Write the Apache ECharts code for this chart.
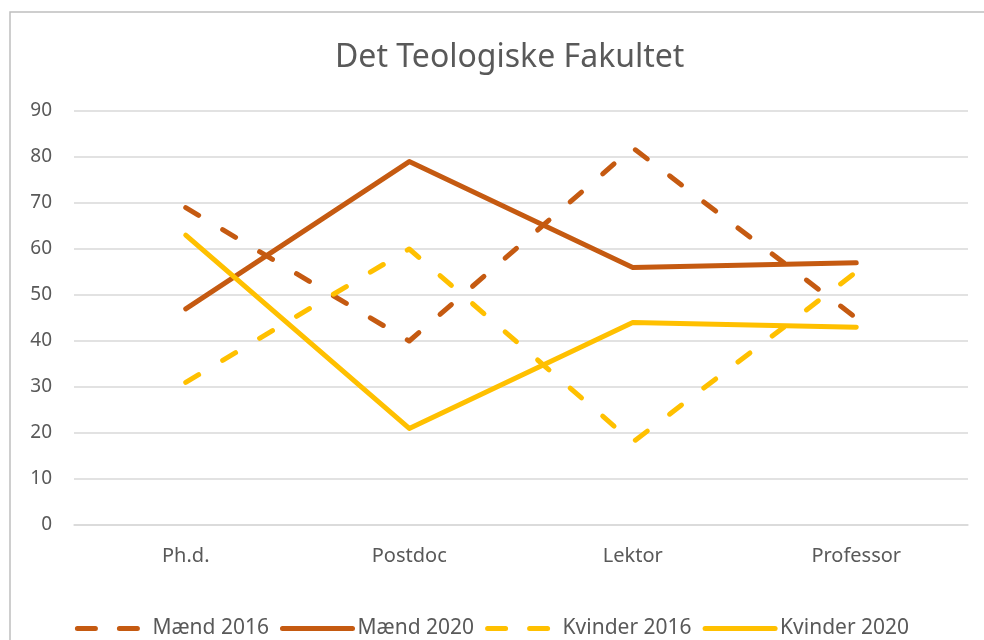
<!DOCTYPE html>
<html>
<head>
<meta charset="utf-8">
<script src="https://cdn.jsdelivr.net/npm/echarts@6/dist/echarts.min.js"></script>
<style>
  html, body { margin: 0; padding: 0; background: #fff; }
  #chart { width: 984px; height: 640px; }
</style>
</head>
<body>
<div id="chart"></div>
<script>
// stillinger
const categories = ['Ph.d.', 'Postdoc', 'Lektor', 'Professor']

// andele i procent
const maend2016 = [69, 40, 82, 45]
const maend2020 = [47, 79, 56, 57]
const kvinder2016 = [31, 60, 18, 55]
const kvinder2020 = [63, 21, 44, 43]

const orange = '#C55A11'
const yellow = '#FFC000'
const textGrey = '#595959'
const font = 'Noto Sans'

const chart = echarts.init(document.getElementById('chart'))

const dashed = [15, 28]

function makeSeries(name, data, color, dash) {
  return {
    name,
    type: 'line',
    data,
    symbol: 'none',
    itemStyle: { color },
    lineStyle: {
      color,
      width: 5,
      type: dash ? dashed : 'solid',
      cap: 'round',
      join: 'round'
    },
    emphasis: { disabled: true }
  }
}

function legendItem(name, color, dash) {
  return {
    name,
    itemStyle: { opacity: 0 },
    lineStyle: { color, width: 5, type: dash ? [18, 24] : 'solid', cap: 'round' }
  }
}

const option = {
  animation: false,
  textStyle: { fontFamily: font },
  graphic: [{
    type: 'rect',
    shape: { x: 10, y: 12, width: 1000, height: 700 },
    style: { fill: 'none', stroke: '#BFBFBF', lineWidth: 1.5 },
    silent: true
  }],
  title: {
    text: 'Det Teologiske Fakultet',
    left: 330,
    top: 37,
    textStyle: { color: textGrey, fontSize: 32, fontWeight: 'normal', fontFamily: font }
  },
  legend: {
    bottom: -4,
    left: 'center',
    itemWidth: 70,
    itemHeight: 12,
    itemGap: 11,
    textStyle: { color: textGrey, fontSize: 21, fontFamily: font },
    data: [
      legendItem('Mænd 2016', orange, true),
      legendItem('Mænd 2020', orange, false),
      legendItem('Kvinder 2016', yellow, true),
      legendItem('Kvinder 2020', yellow, false)
    ]
  },
  grid: { left: 74, right: 16, top: 111, bottom: 115 },
  xAxis: {
    type: 'category',
    data: categories,
    boundaryGap: true,
    axisLine: { lineStyle: { color: '#D9D9D9', width: 1.5 } },
    axisTick: { show: false },
    axisLabel: { color: textGrey, fontSize: 20, margin: 21 }
  },
  yAxis: {
    type: 'value',
    min: 0,
    max: 90,
    interval: 10,
    axisLine: { show: false },
    axisTick: { show: false },
    axisLabel: { color: textGrey, fontSize: 19, margin: 22 },
    splitLine: { lineStyle: { color: '#D9D9D9', width: 1.5 } }
  },
  series: [
    makeSeries('Mænd 2016', maend2016, orange, true),
    makeSeries('Mænd 2020', maend2020, orange, false),
    makeSeries('Kvinder 2016', kvinder2016, yellow, true),
    makeSeries('Kvinder 2020', kvinder2020, yellow, false)
  ]
}

chart.setOption(option)
</script>
</body>
</html>
